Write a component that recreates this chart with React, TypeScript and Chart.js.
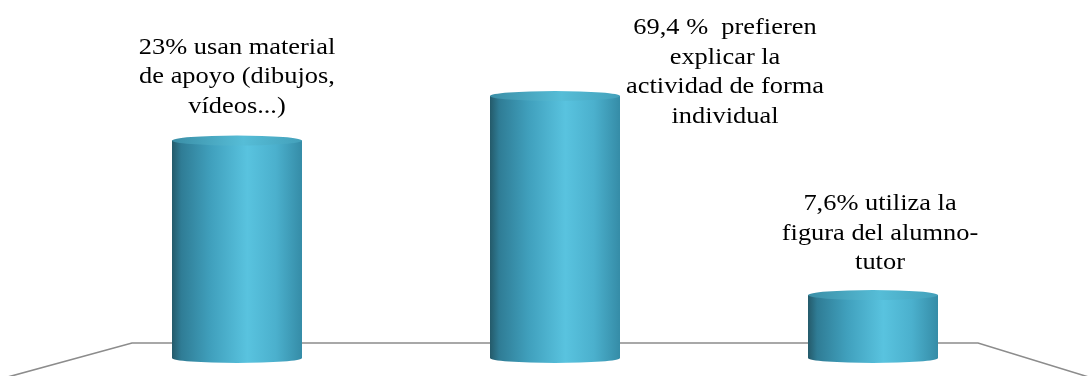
import React, { useEffect, useRef } from "react";
import { Chart, registerables } from "chart.js";

Chart.register(...registerables);

const categories = ["Material de apoyo", "Explicación individual", "Alumno-tutor"];
const barValues = [83, 100, 24];
const annotationLines = [
  ["23% usan material", "de apoyo (dibujos,", "vídeos...)"],
  ["69,4 %  prefieren", "explicar la", "actividad de forma", "individual"],
  ["7,6% utiliza la", "figura del alumno-", "tutor"],
];

const W = 1088;
const H = 376;

const cylinderPlugin = {
  id: "cylinders",
  beforeDatasetsDraw(chart: any) {
    const ctx = chart.ctx;
    const base = chart.scales.y.getPixelForValue(0);
    ctx.save();
    ctx.strokeStyle = "#8c8c8c";
    ctx.lineWidth = 1.6;
    ctx.beginPath();
    ctx.moveTo(4, 378);
    ctx.lineTo(132, base - 15);
    ctx.lineTo(978, base - 15);
    ctx.lineTo(1092, 378);
    ctx.stroke();
    ctx.restore();
  },
  afterDatasetsDraw(chart: any) {
    const ctx = chart.ctx;
    const meta = chart.getDatasetMeta(0);
    const ry = 5;
    meta.data.forEach((bar: any) => {
      const left = bar.x - bar.width / 2;
      const right = bar.x + bar.width / 2;
      const top = bar.y;
      const bottom = bar.base;
      const rx = bar.width / 2;
      const g = ctx.createLinearGradient(left, 0, right, 0);
      g.addColorStop(0, "#245a6a");
      g.addColorStop(0.07, "#2f7c95");
      g.addColorStop(0.3, "#40a0bd");
      g.addColorStop(0.58, "#59c3df");
      g.addColorStop(0.8, "#4bb0cd");
      g.addColorStop(1, "#358ca7");
      ctx.save();
      ctx.beginPath();
      ctx.moveTo(left, top);
      ctx.lineTo(left, bottom);
      ctx.ellipse(bar.x, bottom, rx, ry, 0, Math.PI, 0, true);
      ctx.lineTo(right, top);
      ctx.closePath();
      ctx.fillStyle = g;
      ctx.fill();
      const gt = ctx.createLinearGradient(left, 0, right, 0);
      gt.addColorStop(0, "#3a8ea6");
      gt.addColorStop(0.55, "#56bdd7");
      gt.addColorStop(1, "#43a0ba");
      ctx.beginPath();
      ctx.ellipse(bar.x, top, rx, ry, 0, 0, Math.PI * 2);
      ctx.fillStyle = gt;
      ctx.fill();
      ctx.restore();
    });
  },
  afterDraw(chart: any) {
    const ctx = chart.ctx;
    const meta = chart.getDatasetMeta(0);
    const lh = 29.5;
    ctx.save();
    ctx.font = "24px 'Liberation Serif', 'Times New Roman', serif";
    ctx.fillStyle = "#000";
    ctx.textAlign = "center";
    ctx.textBaseline = "middle";
    annotationLines.forEach((lines, i) => {
      const bar = meta.data[i];
      let cx = bar.x;
      let firstY = 0;
      if (i === 0) {
        firstY = bar.y - 34 - (lines.length - 1) * lh;
      } else if (i === 1) {
        cx = bar.x + 170;
        firstY = 28;
      } else {
        cx = bar.x + 7;
        firstY = bar.y - 32 - (lines.length - 1) * lh;
      }
      lines.forEach((ln, k) => {
        ctx.save();
        ctx.translate(cx, firstY + k * lh);
        ctx.scale(1.1, 1);
        ctx.fillText(ln, 0, 0);
        ctx.restore();
      });
    });
    ctx.restore();
  },
};

export default function App() {
  const ref = useRef<HTMLCanvasElement | null>(null);
  useEffect(() => {
    document.body.style.margin = "0";
    const chart = new Chart(ref.current as HTMLCanvasElement, {
      type: "bar",
      data: {
        labels: categories,
        datasets: [
          {
            data: barValues,
            backgroundColor: "rgba(0,0,0,0)",
            borderWidth: 0,
            barThickness: 130,
          },
        ],
      },
      options: {
        animation: false,
        responsive: false,
        devicePixelRatio: 1,
        layout: { padding: { top: 96, bottom: 18, left: 78, right: 56 } },
        plugins: { legend: { display: false }, tooltip: { enabled: false } },
        scales: {
          x: { display: false },
          y: { display: false, min: 0, max: 100 },
        },
      },
      plugins: [cylinderPlugin],
    });
    return () => chart.destroy();
  }, []);
  return (
    <div style={{ width: W, height: H, background: "#fff" }}>
      <canvas ref={ref} width={W} height={H} style={{ width: W, height: H }} />
    </div>
  );
}
